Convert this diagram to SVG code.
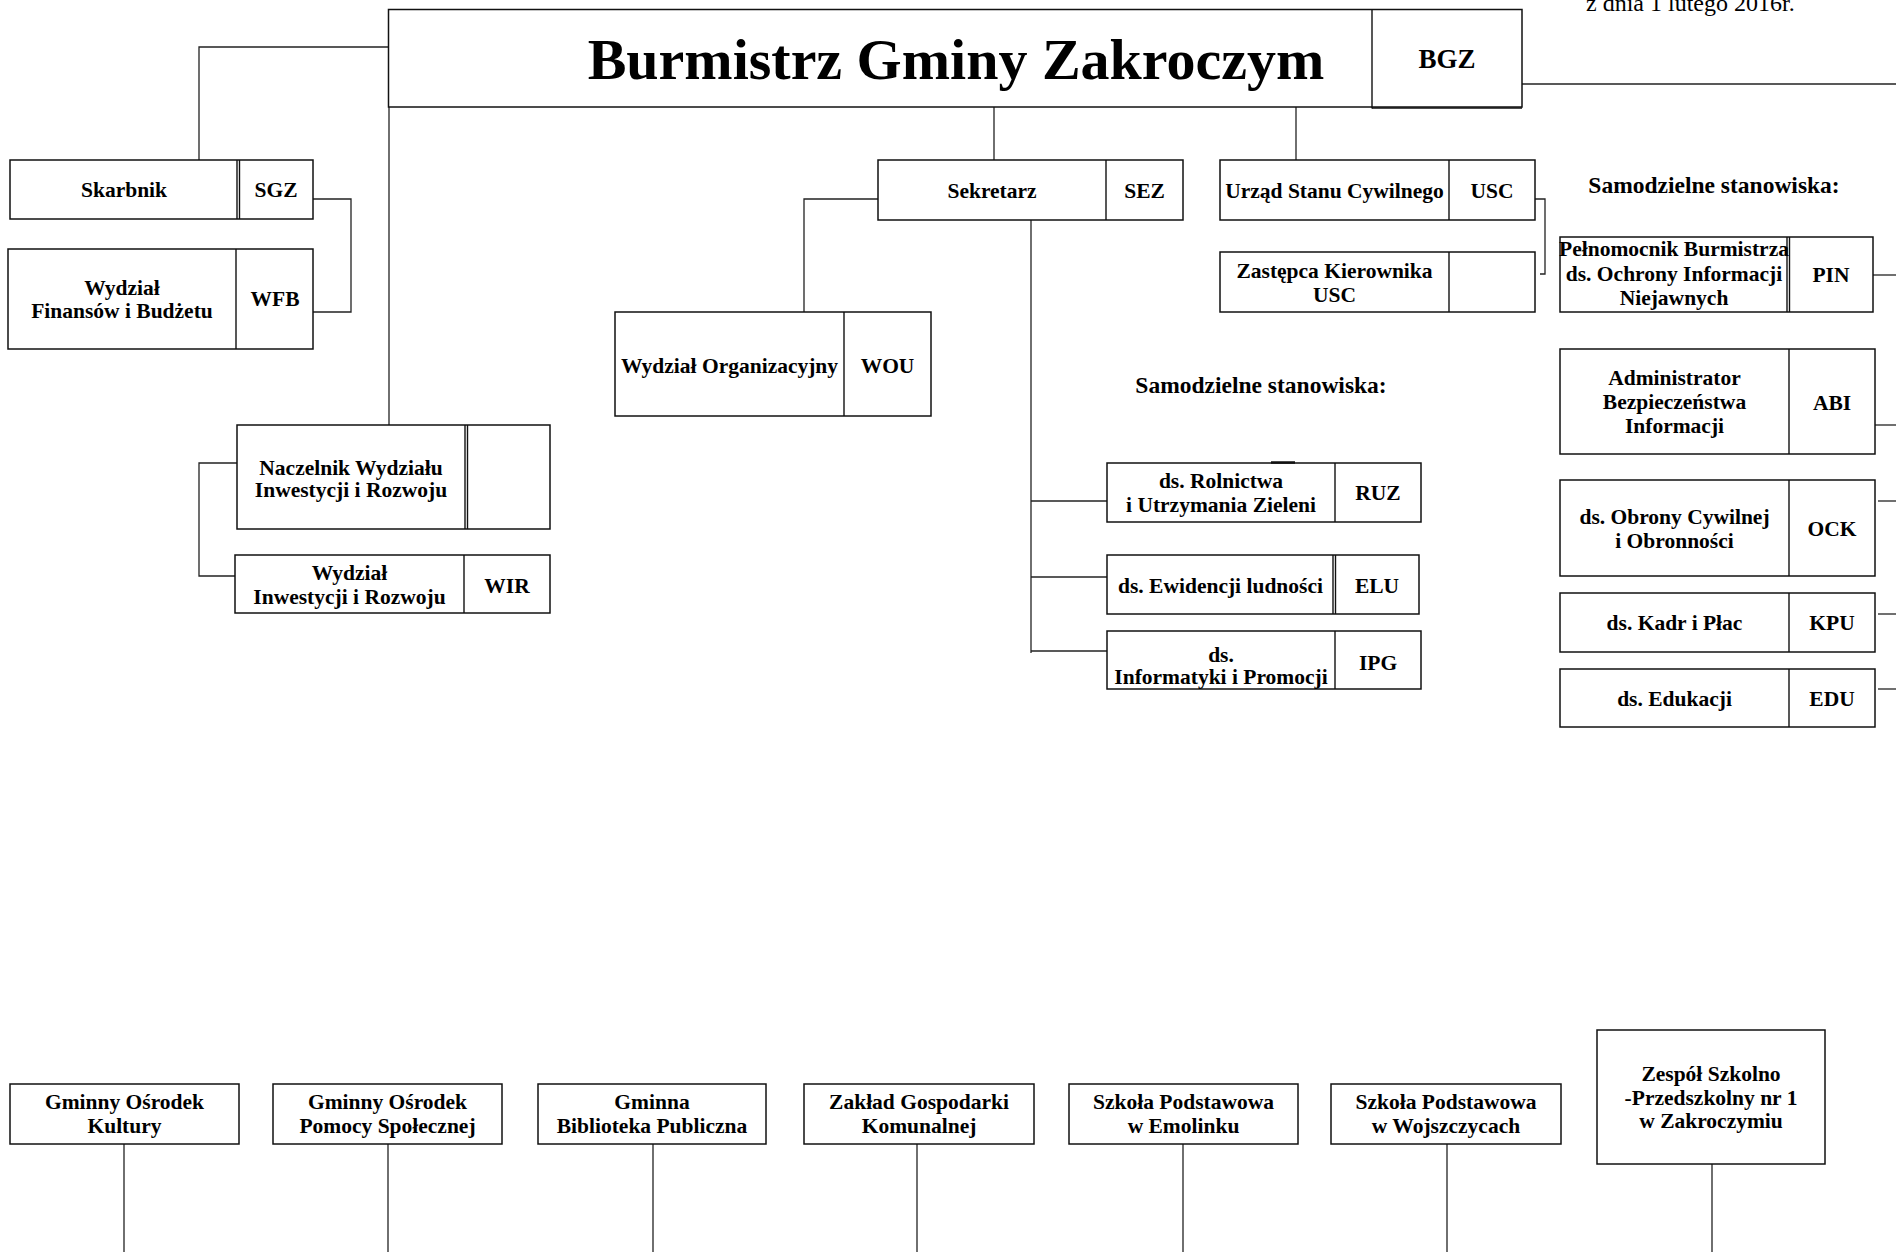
<svg xmlns="http://www.w3.org/2000/svg" width="1896" height="1252" viewBox="0 0 1896 1252">
<style>
.b{fill:#fff;stroke:#111;stroke-width:1.5}
.d{stroke:#111;stroke-width:1.4;fill:none}
.c{stroke:#222;stroke-width:1.3;fill:none}
text{font-family:"Liberation Serif","Times New Roman",serif;font-weight:bold;font-size:21.5px;fill:#000;text-anchor:middle}
.h{font-size:23.5px}
.t{font-size:58px}
.bg{font-size:27px}
.dt{font-weight:normal;font-size:24px;text-anchor:start}
</style>
<rect width="1896" height="1252" fill="#fff"/>
<text class="dt" x="1586" y="10.5">z dnia 1 lutego 2016r.</text>

<g id="connectors">
<polyline class="c" points="388,47 199,47 199,160"/>
<line class="c" x1="389" y1="107" x2="389" y2="425"/>
<polyline class="c" points="313,199 351,199 351,312 313,312"/>
<polyline class="c" points="237,463 199,463 199,576 235,576"/>
<line class="c" x1="994" y1="107" x2="994" y2="160"/>
<line class="c" x1="1296" y1="107" x2="1296" y2="160"/>
<polyline class="c" points="878,199 804,199 804,312"/>
<polyline class="c" points="1535,199 1545,199 1545,274 1540,274"/>
<polyline class="c" points="1031,220 1031,653"/>
<line class="c" x1="1031" y1="501" x2="1107" y2="501"/>
<line class="c" x1="1031" y1="577" x2="1107" y2="577"/>
<line class="c" x1="1031" y1="651" x2="1107" y2="651"/>
<line class="c" x1="1522" y1="84" x2="1896" y2="84"/>
<line class="c" x1="1873" y1="275" x2="1896" y2="275"/>
<line class="c" x1="1875" y1="425" x2="1896" y2="425"/>
<line class="c" x1="1878" y1="501" x2="1896" y2="501"/>
<line class="c" x1="1878" y1="614" x2="1896" y2="614"/>
<line class="c" x1="1878" y1="689" x2="1896" y2="689"/>
<line class="c" x1="124" y1="1144" x2="124" y2="1252"/>
<line class="c" x1="388" y1="1144" x2="388" y2="1252"/>
<line class="c" x1="653" y1="1144" x2="653" y2="1252"/>
<line class="c" x1="917" y1="1144" x2="917" y2="1252"/>
<line class="c" x1="1183" y1="1144" x2="1183" y2="1252"/>
<line class="c" x1="1447" y1="1144" x2="1447" y2="1252"/>
<line class="c" x1="1712" y1="1164" x2="1712" y2="1252"/>
</g>

<g id="BGZ">
<rect class="b" x="388.5" y="9.5" width="1133.5" height="97.5"/>
<line class="d" x1="1372" y1="9.5" x2="1372" y2="108.5"/>
<line class="d" x1="1372" y1="108" x2="1522" y2="108"/>
<text class="t" x="956" y="79">Burmistrz Gminy Zakroczym</text>
<text class="bg" x="1447" y="68">BGZ</text>
</g>

<g id="SGZ">
<rect class="b" x="10" y="160" width="303" height="59"/>
<line class="d" x1="237" y1="160" x2="237" y2="219"/>
<line class="d" x1="239.5" y1="160" x2="239.5" y2="219"/>
<text x="124" y="197">Skarbnik</text>
<text x="276" y="197">SGZ</text>
</g>

<g id="WFB">
<rect class="b" x="8" y="249" width="305" height="100"/>
<line class="d" x1="236" y1="249" x2="236" y2="349"/>
<text x="122" y="295">Wydział</text>
<text x="122" y="318">Finansów i Budżetu</text>
<text x="275" y="306">WFB</text>
</g>

<g id="NWIR">
<rect class="b" x="237" y="425" width="313" height="104"/>
<line class="d" x1="465" y1="425" x2="465" y2="529"/>
<line class="d" x1="467.5" y1="425" x2="467.5" y2="529"/>
<text x="351" y="475">Naczelnik Wydziału</text>
<text x="351" y="497">Inwestycji i Rozwoju</text>
</g>

<g id="WIR">
<rect class="b" x="235" y="555" width="315" height="58"/>
<line class="d" x1="464" y1="555" x2="464" y2="613"/>
<text x="349.5" y="580">Wydział</text>
<text x="349.5" y="604">Inwestycji i Rozwoju</text>
<text x="507" y="593">WIR</text>
</g>

<g id="WOU">
<rect class="b" x="615" y="312" width="316" height="104"/>
<line class="d" x1="844" y1="312" x2="844" y2="416"/>
<text x="729.5" y="373">Wydział Organizacyjny</text>
<text x="887.5" y="373">WOU</text>
</g>

<g id="SEZ">
<rect class="b" x="878" y="160" width="305" height="60"/>
<line class="d" x1="1106" y1="160" x2="1106" y2="220"/>
<text x="992" y="198">Sekretarz</text>
<text x="1144.5" y="198">SEZ</text>
</g>

<g id="USC">
<rect class="b" x="1220" y="160" width="315" height="60"/>
<line class="d" x1="1449" y1="160" x2="1449" y2="220"/>
<text x="1334.5" y="198">Urząd Stanu Cywilnego</text>
<text x="1492" y="198">USC</text>
</g>

<g id="ZUSC">
<rect class="b" x="1220" y="252" width="315" height="60"/>
<line class="d" x1="1449" y1="252" x2="1449" y2="312"/>
<text x="1334.5" y="278">Zastępca Kierownika</text>
<text x="1334.5" y="302">USC</text>
</g>

<g id="label-samodzielne-1">
<text class="h" x="1714" y="193">Samodzielne stanowiska:</text>
</g>
<g id="label-samodzielne-2">
<text class="h" x="1261" y="393">Samodzielne stanowiska:</text>
</g>

<g id="PIN">
<rect class="b" x="1560" y="237" width="313" height="75"/>
<line class="d" x1="1787" y1="237" x2="1787" y2="312"/>
<line class="d" x1="1789.5" y1="237" x2="1789.5" y2="312"/>
<text x="1674" y="256">Pełnomocnik Burmistrza</text>
<text x="1674" y="281">ds. Ochrony Informacji</text>
<text x="1674" y="305">Niejawnych</text>
<text x="1831" y="282">PIN</text>
</g>

<g id="ABI">
<rect class="b" x="1560" y="349" width="315" height="105"/>
<line class="d" x1="1789" y1="349" x2="1789" y2="454"/>
<text x="1674.5" y="385">Administrator</text>
<text x="1674.5" y="409">Bezpieczeństwa</text>
<text x="1674.5" y="433">Informacji</text>
<text x="1832" y="410">ABI</text>
</g>

<g id="OCK">
<rect class="b" x="1560" y="480" width="315" height="96"/>
<line class="d" x1="1789" y1="480" x2="1789" y2="576"/>
<text x="1674.5" y="524">ds. Obrony Cywilnej</text>
<text x="1674.5" y="548">i Obronności</text>
<text x="1832" y="536">OCK</text>
</g>

<g id="KPU">
<rect class="b" x="1560" y="593" width="315" height="59"/>
<line class="d" x1="1789" y1="593" x2="1789" y2="652"/>
<text x="1674.5" y="630">ds. Kadr i Płac</text>
<text x="1832" y="630">KPU</text>
</g>

<g id="EDU">
<rect class="b" x="1560" y="669" width="315" height="58"/>
<line class="d" x1="1789" y1="669" x2="1789" y2="727"/>
<text x="1674.5" y="706">ds. Edukacji</text>
<text x="1832" y="706">EDU</text>
</g>

<g id="RUZ">
<rect class="b" x="1107" y="463" width="314" height="59"/>
<line class="d" x1="1335" y1="463" x2="1335" y2="522"/>
<line x1="1271" y1="462.5" x2="1295" y2="462.5" stroke="#111" stroke-width="2.5"/>
<text x="1221" y="488">ds. Rolnictwa</text>
<text x="1221" y="512">i Utrzymania Zieleni</text>
<text x="1378" y="500">RUZ</text>
</g>

<g id="ELU">
<rect class="b" x="1107" y="555" width="312" height="59"/>
<line class="d" x1="1333" y1="555" x2="1333" y2="614"/>
<line class="d" x1="1335.5" y1="555" x2="1335.5" y2="614"/>
<text x="1220.5" y="593">ds. Ewidencji ludności</text>
<text x="1377" y="593">ELU</text>
</g>

<g id="IPG">
<rect class="b" x="1107" y="631" width="314" height="58"/>
<line class="d" x1="1335" y1="631" x2="1335" y2="689"/>
<text x="1221" y="662">ds.</text>
<text x="1221" y="684">Informatyki i Promocji</text>
<text x="1378" y="670">IPG</text>
</g>

<g id="GOK">
<rect class="b" x="10" y="1084" width="229" height="60"/>
<text x="124.5" y="1109">Gminny Ośrodek</text>
<text x="124.5" y="1133">Kultury</text>
</g>

<g id="GOPS">
<rect class="b" x="273" y="1084" width="229" height="60"/>
<text x="387.5" y="1109">Gminny Ośrodek</text>
<text x="387.5" y="1133">Pomocy Społecznej</text>
</g>

<g id="GBP">
<rect class="b" x="538" y="1084" width="228" height="60"/>
<text x="652" y="1109">Gminna</text>
<text x="652" y="1133">Biblioteka Publiczna</text>
</g>

<g id="ZGK">
<rect class="b" x="804" y="1084" width="230" height="60"/>
<text x="919" y="1109">Zakład Gospodarki</text>
<text x="919" y="1133">Komunalnej</text>
</g>

<g id="SPE">
<rect class="b" x="1069" y="1084" width="229" height="60"/>
<text x="1183.5" y="1109">Szkoła Podstawowa</text>
<text x="1183.5" y="1133">w Emolinku</text>
</g>

<g id="SPW">
<rect class="b" x="1331" y="1084" width="230" height="60"/>
<text x="1446" y="1109">Szkoła Podstawowa</text>
<text x="1446" y="1133">w Wojszczycach</text>
</g>

<g id="ZSP">
<rect class="b" x="1597" y="1030" width="228" height="134"/>
<text x="1711" y="1081">Zespół Szkolno</text>
<text x="1711" y="1105">-Przedszkolny nr 1</text>
<text x="1711" y="1128">w Zakroczymiu</text>
</g>
</svg>
